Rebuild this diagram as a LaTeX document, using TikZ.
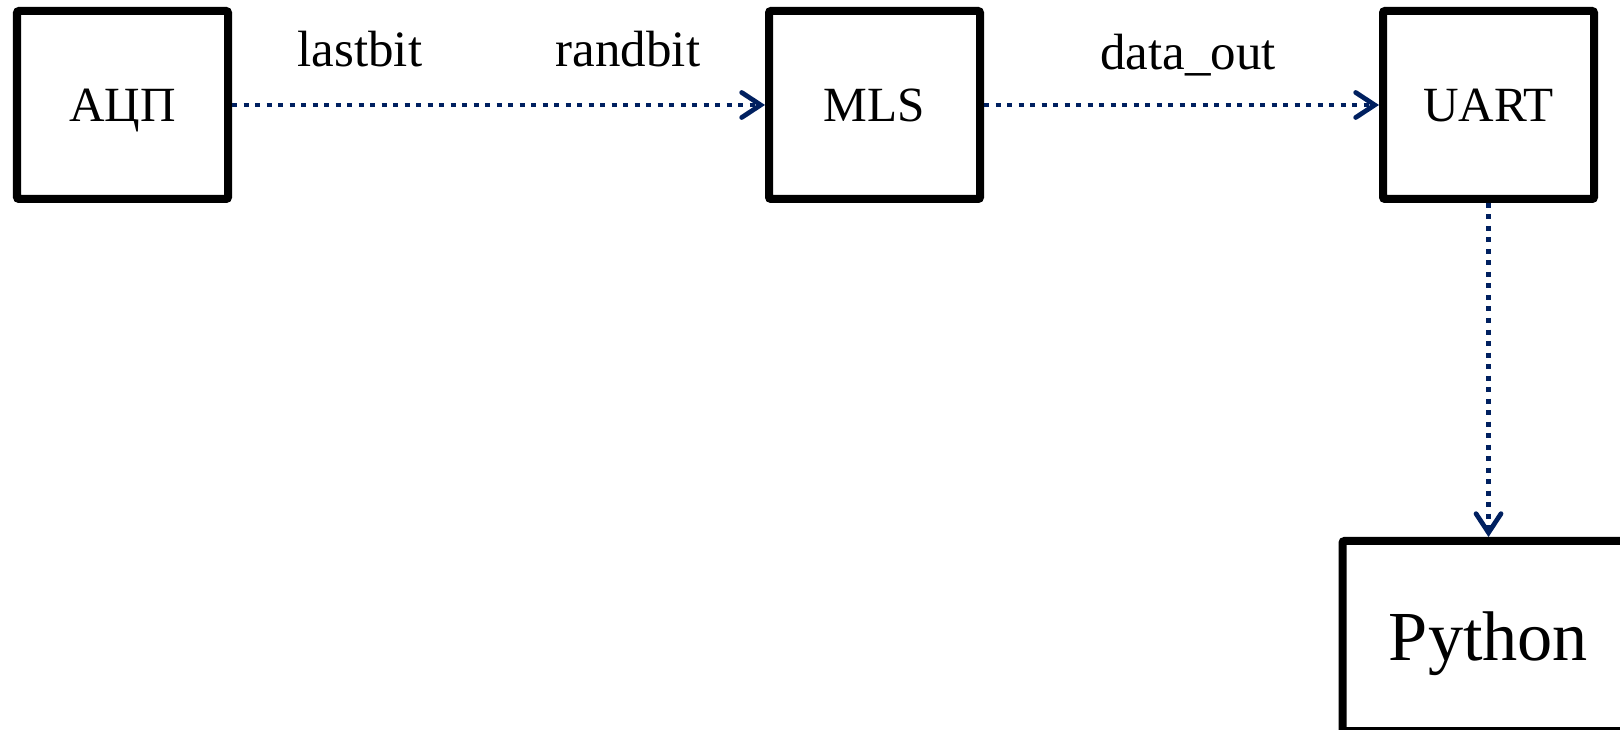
\documentclass[tikz,border=0pt]{standalone}
\usepackage{fontspec}
\setmainfont{Liberation Serif}
\usetikzlibrary{arrows.meta}
\definecolor{navy}{RGB}{0,32,96}

\begin{document}
\begin{tikzpicture}[
    block/.style={draw,line width=0.16cm,rounded corners=0.04cm,minimum width=4.22cm,minimum height=3.76cm,text depth=0pt,font=\fontsize{28}{32}\selectfont},
    link/.style={navy,line width=0.095cm,dash pattern=on 0.1cm off 0.13cm,-{Straight Barb[length=0.38cm,width=0.5cm,line cap=round]}},
    tag/.style={anchor=base,font=\fontsize{29}{34}\selectfont}]
                \useasboundingbox (0,0) rectangle (32.4,14.58);
                \node[block] (adc) at (2.45,12.48) {АЦП};
                \node[block] (mls) at (17.49,12.48) {MLS};
                \node[block] (uart) at (29.77,12.48) {UART};
                \node[block,minimum width=5.84cm,minimum height=3.8cm,font=\fontsize{40}{48}\selectfont] (python) at (29.77,1.86) {Python};
                \draw[link] (adc.east) -- (mls.west);
                \draw[link] (mls.east) -- (uart.west);
                \draw[link] (uart.south) -- (python.north);
                \node[tag] (lastbit) at (7.2,13.24) {lastbit};
                \node[tag] (randbit) at (12.56,13.24) {randbit};
                \node[tag] (dataout) at (23.76,13.18) {data\_out};
            \end{tikzpicture}
\end{document}
